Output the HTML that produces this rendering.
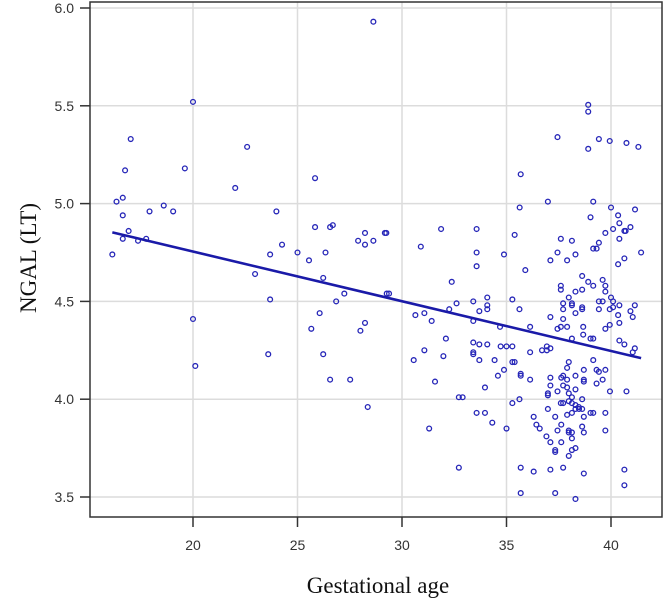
<!DOCTYPE html>
<html><head><meta charset="utf-8"><style>
html,body{margin:0;padding:0;background:#fff;}
svg{display:block;}
</style></head><body>
<svg id="chart" width="665" height="604" xmlns="http://www.w3.org/2000/svg">
<g id="grid"></g>
<g id="points"></g>
<g id="fit"></g>
<rect x="90" y="2" width="572" height="515" fill="none" stroke="#333" stroke-width="1.5"/>
<g id="axes"></g>
<text x="378" y="593" text-anchor="middle" font-family="Liberation Serif, serif" font-size="23" fill="#111">Gestational age</text>
<text transform="translate(36,258) rotate(-90)" text-anchor="middle" font-family="Liberation Serif, serif" font-size="23" fill="#111">NGAL (LT)</text>
</svg>
<script>
const xTicks = [20, 25, 30, 35, 40];
const yTicks = [3.5, 4.0, 4.5, 5.0, 5.5, 6.0];
const yTickLabels = ["3.5", "4.0", "4.5", "5.0", "5.5", "6.0"];
const lineX = [16.14, 41.44];
const lineY = [4.853, 4.21];
const ptsX = [28.63,20.0,17.02,22.59,16.75,19.61,22.02,25.84,16.34,16.64,16.64,17.92,18.6,19.05,23.99,16.92,16.64,17.37,17.76,16.14,25.84,26.56,26.69,23.69,24.26,25.0,25.55,26.34,27.9,28.23,28.23,28.63,29.18,22.97,26.23,27.24,26.85,29.27,23.69,20.0,26.06,25.66,28.01,28.23,23.6,26.23,20.11,26.56,27.52,28.36,
38.91,38.91,37.44,39.42,39.94,40.74,41.31,38.91,35.68,36.98,35.63,39.15,40.0,41.15,39.02,40.34,40.4,40.64,40.7,40.93,40.1,39.73,40.4,29.25,31.87,33.57,35.39,30.9,33.57,34.88,33.57,35.9,37.6,38.13,37.44,38.3,37.1,37.9,39.15,39.31,39.42,41.44,40.64,40.34,38.62,38.91,39.15,39.6,39.73,39.73,37.6,37.6,38.3,38.62,37.98,38.13,40.0,40.1,39.42,39.6,39.42,41.14,32.38,29.38,34.08,35.28,32.61,33.41,34.08,34.08,32.26,33.7,35.62,37.71,37.71,38.13,38.62,38.62,38.3,40.4,40.1,39.94,40.93,41.04,40.34,30.64,31.07,31.42,33.41,37.1,37.71,34.69,36.13,37.44,37.6,37.9,38.67,38.67,39.02,39.15,39.73,39.94,40.4,38.13,40.4,40.64,41.14,41.04,32.1,31.07,30.56,31.98,33.41,33.7,34.08,33.41,33.41,33.7,34.43,34.72,35.0,35.28,36.13,36.7,36.93,36.93,37.1,35.28,35.39,34.88,34.59,35.68,35.68,36.13,31.58,33.97,32.72,32.9,33.57,33.97,34.32,31.3,35.0,35.28,35.62,32.72,
37.98,37.9,37.62,37.71,37.9,38.3,38.7,38.7,38.7,39.15,39.31,39.42,39.73,39.6,39.31,39.95,40.74,37.1,37.1,36.98,36.98,37.44,37.71,37.9,38.3,37.98,38.13,37.6,37.71,37.98,38.13,38.3,38.46,38.62,38.3,38.47,38.13,38.62,37.9,38.7,39.02,39.15,39.73,39.73,36.98,37.33,37.62,36.3,36.43,36.59,37.44,37.98,38.13,37.98,38.62,38.7,36.91,37.1,37.62,38.13,37.33,37.33,38.3,38.13,37.98,35.68,36.3,37.1,37.71,38.7,40.64,40.64,35.68,37.33,38.3];
const ptsY = [5.93,5.52,5.33,5.29,5.17,5.18,5.08,5.13,5.01,5.03,4.94,4.96,4.99,4.96,4.96,4.86,4.82,4.81,4.82,4.74,4.88,4.88,4.89,4.74,4.79,4.75,4.71,4.75,4.81,4.85,4.79,4.81,4.85,4.64,4.62,4.54,4.50,4.54,4.51,4.41,4.44,4.36,4.35,4.39,4.23,4.23,4.17,4.10,4.10,3.96,
5.505,5.47,5.34,5.33,5.32,5.31,5.29,5.28,5.15,5.01,4.98,5.01,4.98,4.97,4.93,4.94,4.90,4.86,4.86,4.88,4.87,4.85,4.82,4.85,4.87,4.87,4.84,4.78,4.75,4.74,4.68,4.66,4.82,4.81,4.75,4.74,4.71,4.71,4.77,4.77,4.80,4.75,4.72,4.69,4.63,4.60,4.58,4.61,4.58,4.55,4.58,4.56,4.55,4.56,4.52,4.49,4.52,4.50,4.50,4.50,4.46,4.48,4.60,4.54,4.52,4.51,4.49,4.50,4.48,4.46,4.46,4.45,4.46,4.49,4.46,4.48,4.47,4.46,4.44,4.48,4.47,4.46,4.45,4.42,4.43,4.43,4.44,4.40,4.40,4.42,4.41,4.37,4.37,4.36,4.37,4.37,4.37,4.33,4.31,4.31,4.36,4.38,4.39,4.31,4.30,4.28,4.26,4.24,4.31,4.25,4.20,4.22,4.29,4.28,4.28,4.24,4.23,4.20,4.20,4.27,4.27,4.27,4.24,4.25,4.27,4.25,4.26,4.19,4.19,4.15,4.12,4.13,4.12,4.10,4.09,4.06,4.01,4.01,3.93,3.93,3.88,3.85,3.85,3.98,4.0,3.65,
4.19,4.16,4.11,4.12,4.10,4.12,4.15,4.10,4.09,4.20,4.15,4.14,4.15,4.10,4.08,4.04,4.04,4.11,4.07,4.03,4.02,4.04,4.07,4.06,4.05,4.03,4.01,3.98,3.98,3.99,3.98,3.97,3.96,4.0,3.95,3.95,3.93,3.95,3.92,3.91,3.93,3.93,3.93,3.84,3.95,3.91,3.87,3.91,3.87,3.85,3.84,3.84,3.83,3.83,3.86,3.83,3.81,3.78,3.78,3.80,3.74,3.73,3.75,3.74,3.71,3.65,3.63,3.64,3.65,3.62,3.64,3.56,3.52,3.52,3.49];

const NS = "http://www.w3.org/2000/svg";
function xs(v){ return 193 + (v - 20) * 20.9; }
function ys(v){ return 497 - (v - 3.5) * 195.6; }
function mk(tag, attrs, parent){
  const e = document.createElementNS(NS, tag);
  for (const k in attrs) e.setAttribute(k, attrs[k]);
  parent.appendChild(e);
  return e;
}
const grid = document.getElementById('grid');
const axes = document.getElementById('axes');
xTicks.forEach(function(t){
  const gl = mk('line', {x1: xs(t), x2: xs(t), y1: 2, y2: 517, stroke: '#dcdcdc', 'stroke-width': 1.5}, grid);
  
  
  const tk = mk('line', {x1: xs(t), x2: xs(t), y1: 517, y2: 527, stroke: '#333', 'stroke-width': 1.5}, axes);
  
  
  const lb = mk('text', {x: xs(t), y: 550, 'text-anchor': 'middle', 'font-family': 'Liberation Sans, sans-serif', 'font-size': 14, fill: '#333'}, axes);
  lb.textContent = String(t);
  
  
});
yTicks.forEach(function(t, i){
  const gl = mk('line', {x1: 90, x2: 662, y1: ys(t), y2: ys(t), stroke: '#dcdcdc', 'stroke-width': 1.5}, grid);
  
  
  const tk = mk('line', {x1: 80, x2: 90, y1: ys(t), y2: ys(t), stroke: '#333', 'stroke-width': 1.5}, axes);
  
  
  const lb = mk('text', {x: 74, y: ys(t) + 5, 'text-anchor': 'end', 'font-family': 'Liberation Sans, sans-serif', 'font-size': 14, fill: '#333'}, axes);
  lb.textContent = yTickLabels[i];
  
  
});
const pg = document.getElementById('points');
for (let i = 0; i < ptsX.length; i++){
  const c = mk('circle', {cx: xs(ptsX[i]), cy: ys(ptsY[i]), r: 2.4, fill: 'none', stroke: '#2626b8', 'stroke-width': 1.3}, pg);
  
  
}
const fl = mk('line', {x1: xs(lineX[0]), y1: ys(lineY[0]), x2: xs(lineX[1]), y2: ys(lineY[1]), stroke: '#1a1aa8', 'stroke-width': 2.6}, document.getElementById('fit'));


</script>
</body></html>
